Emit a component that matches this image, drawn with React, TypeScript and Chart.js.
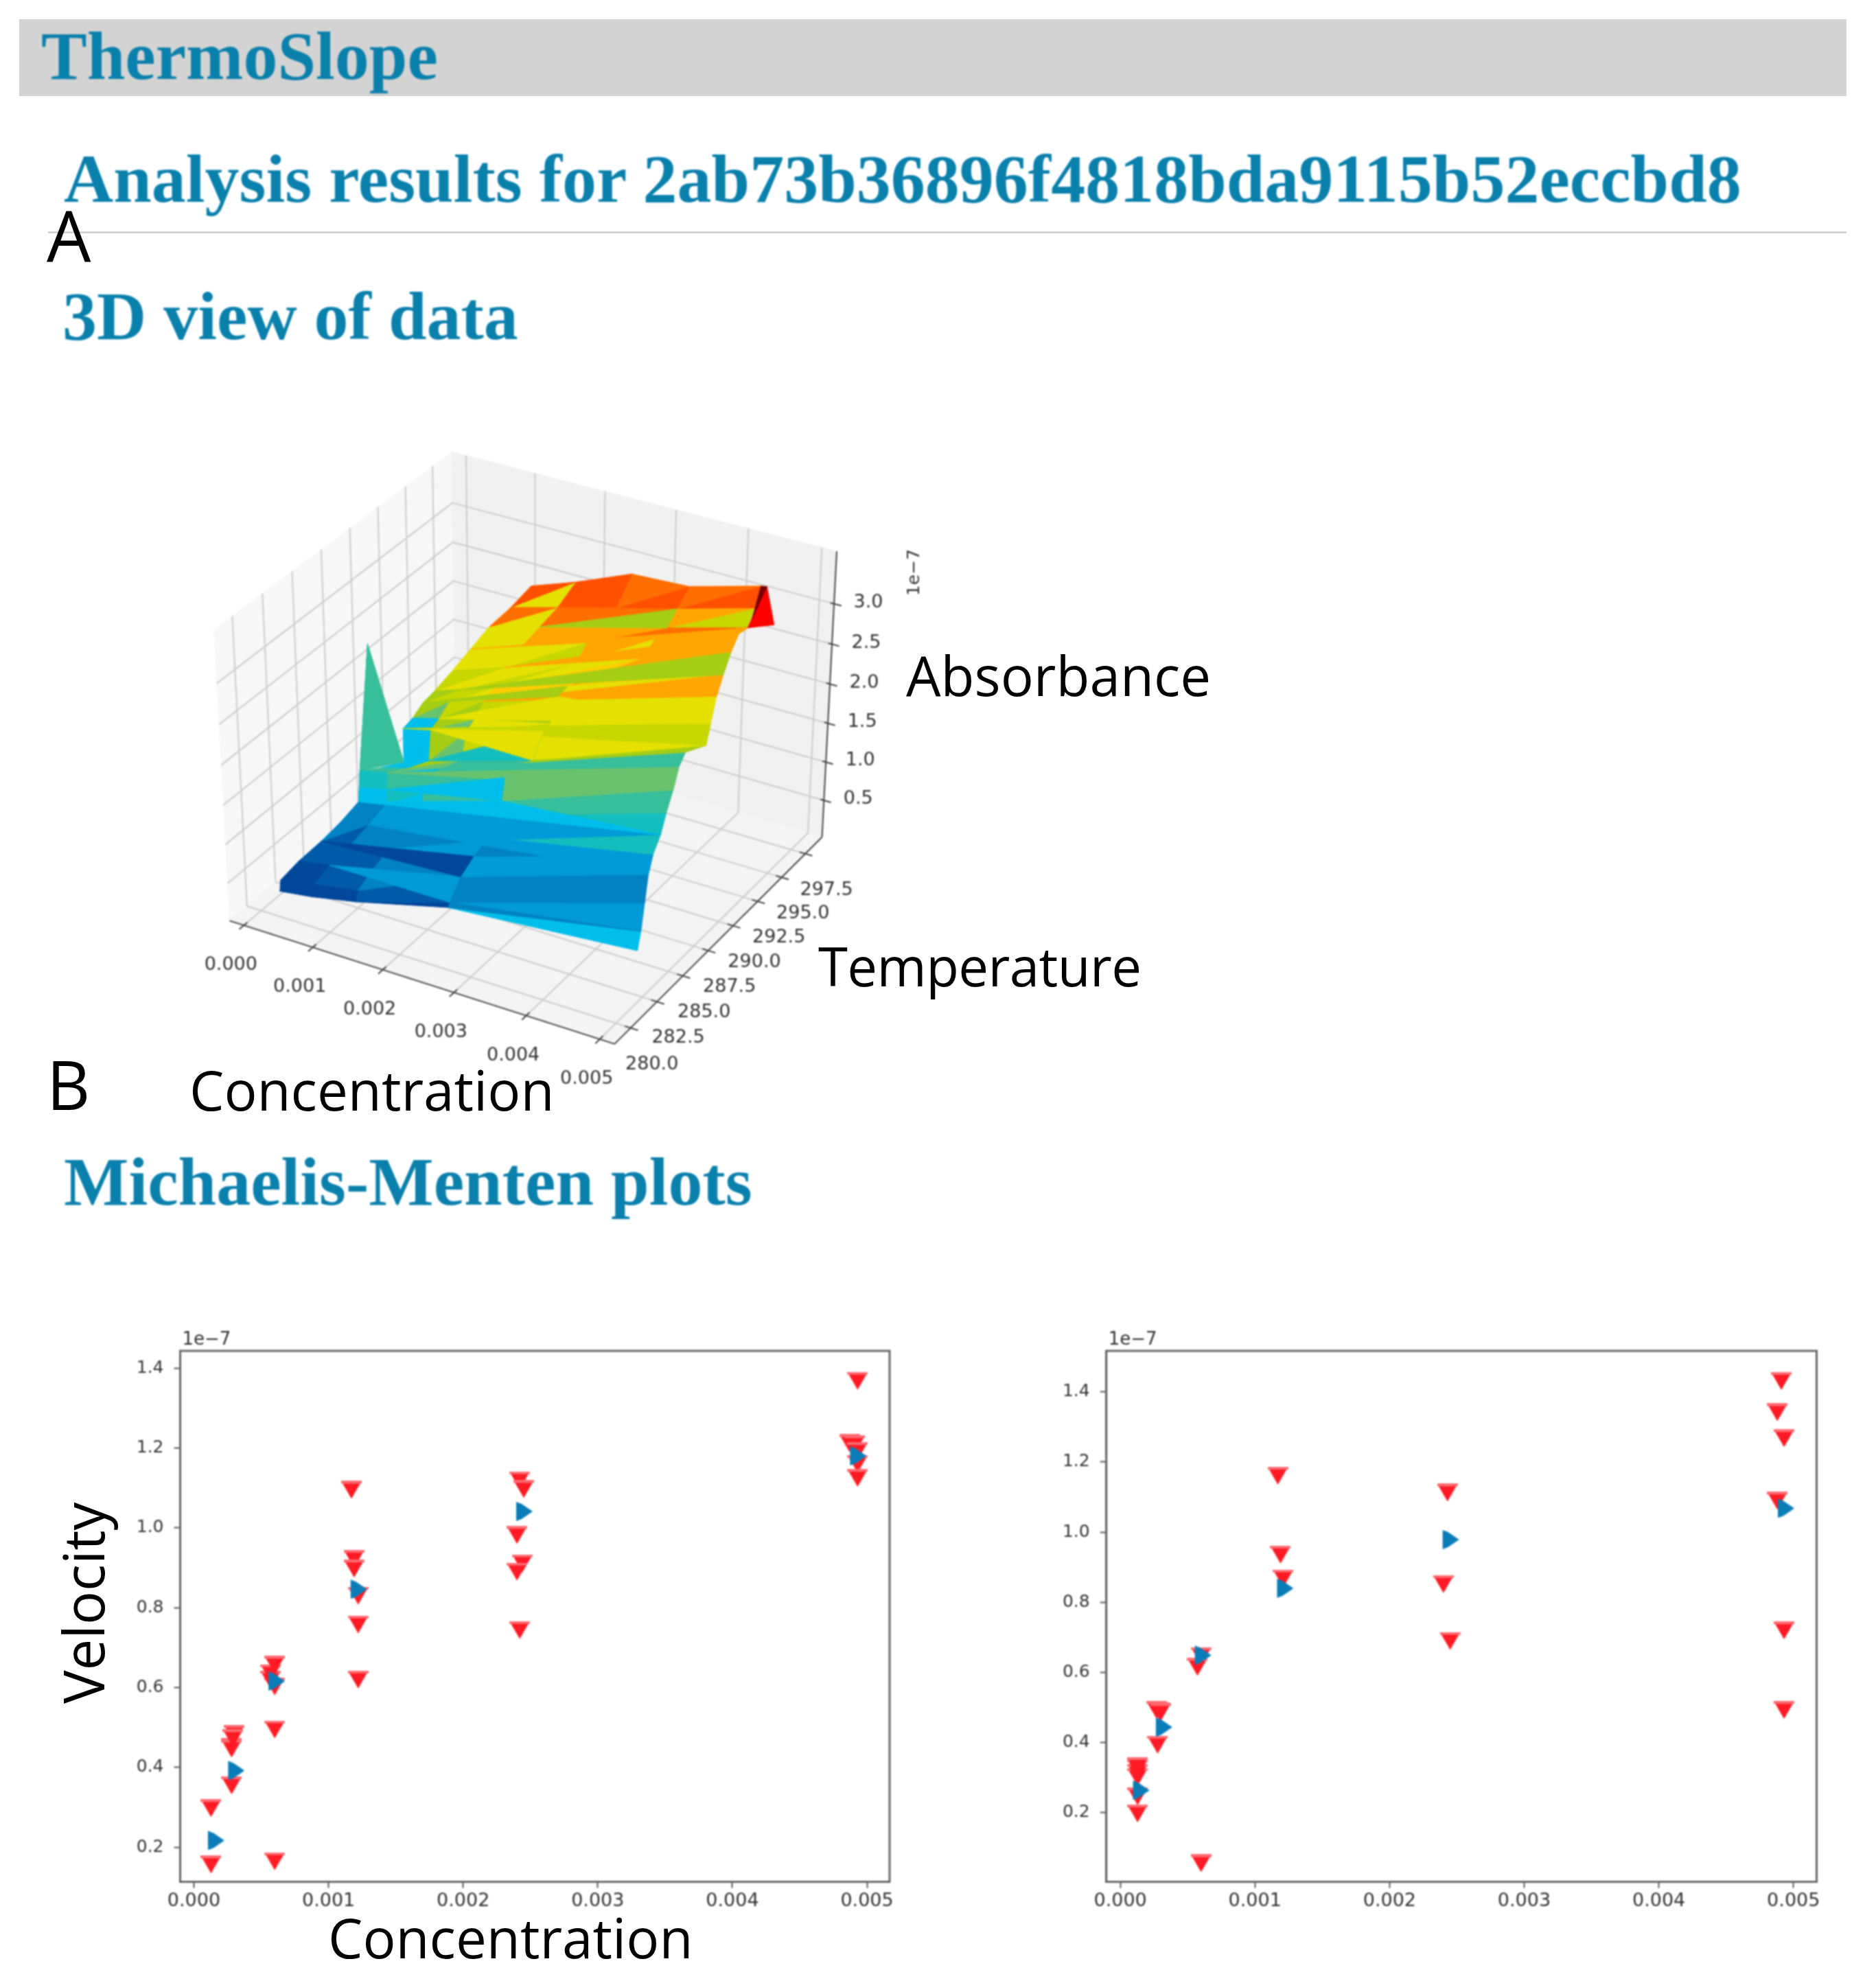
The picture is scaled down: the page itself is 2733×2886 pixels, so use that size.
import React, { useEffect, useRef } from "react";
import { Chart, registerables } from "chart.js";

Chart.register(...registerables);

// ---------- Michaelis-Menten data (velocity in units of 1e-7) ----------
const concTicks = [0, 0.001, 0.002, 0.003, 0.004, 0.005];
const leftVelTicks = [0.2, 0.4, 0.6, 0.8, 1.0, 1.2, 1.4];
const rightVelTicks = [0.2, 0.4, 0.6, 0.8, 1.0, 1.2, 1.4];

const leftRedConc = [0.000127, 0.000127, 0.00028, 0.00028, 0.00028, 0.00030, 0.00029, 0.0006, 0.0006, 0.0006, 0.00057, 0.00057, 0.0006, 0.00117, 0.00119, 0.00119, 0.00122, 0.00122, 0.00122, 0.00242, 0.00245, 0.0024, 0.00244, 0.0024, 0.00242, 0.00493, 0.00487, 0.00491, 0.00493, 0.00493, 0.00493];
const leftRedVel = [0.157, 0.298, 0.355, 0.452, 0.447, 0.484, 0.473, 0.165, 0.495, 0.603, 0.62, 0.636, 0.657, 1.095, 0.922, 0.898, 0.83, 0.758, 0.62, 1.119, 1.097, 0.982, 0.911, 0.89, 0.744, 1.368, 1.212, 1.209, 1.192, 1.16, 1.125];
const leftBlueConc = [0.00016, 0.00031, 0.00061, 0.00122, 0.00245, 0.00493];
const leftBlueVel = [0.217, 0.392, 0.616, 0.846, 1.041, 1.18];

const rightRedConc = [0.000128, 0.000128, 0.000128, 0.000128, 0.000128, 0.000128, 0.000277, 0.00029, 0.00027, 0.0003, 0.0006, 0.000573, 0.0006, 0.00117, 0.00119, 0.00121, 0.00243, 0.0024, 0.00245, 0.00491, 0.00488, 0.00493, 0.00488, 0.00493, 0.00493];
const rightRedVel = [0.198, 0.247, 0.302, 0.314, 0.327, 0.333, 0.394, 0.49, 0.493, 0.487, 0.056, 0.616, 0.647, 1.161, 0.936, 0.868, 1.113, 0.852, 0.69, 1.431, 1.342, 1.268, 1.09, 0.72, 0.493];
const rightBlueConc = [0.00015, 0.00032, 0.00061, 0.00122, 0.00245, 0.00494];
const rightBlueVel = [0.264, 0.444, 0.649, 0.84, 0.979, 1.068];

// ---------- 3D surface data (absorbance in units of 1e-7) ----------
const lowConc = [0.00015, 0.0006, 0.0012, 0.00245, 0.00495];
const surfaceConc = [
  lowConc, lowConc, lowConc, lowConc, lowConc, lowConc, lowConc,
  lowConc, lowConc, lowConc, lowConc, lowConc, lowConc, lowConc,
  [0.00044, 0.00134, 0.0025, 0.00359, 0.00495],
  [0.00071, 0.00156, 0.00262, 0.00368, 0.00495],
  [0.00098, 0.00178, 0.00277, 0.00376, 0.00495],
  [0.0013, 0.00202, 0.00293, 0.00385, 0.00495],
  [0.00159, 0.00226, 0.0031, 0.00394, 0.00495],
];
const surfaceTemp = [
  [280.8, 280.9, 281.1, 281.5, 282.3],
  [280.9, 281.1, 281.3, 281.7, 282.6],
  [282.5, 282.5, 282.6, 282.7, 282.9],
  [284.5, 284.4, 284.2, 283.9, 283.2],
  [286.3, 286.0, 285.7, 285.0, 283.6],
  [287.9, 287.6, 287.1, 286.2, 284.3],
  [288.0, 287.7, 287.3, 286.5, 284.8],
  [288.1, 287.8, 287.5, 286.8, 285.4],
  [290.0, 289.6, 289.1, 288.0, 285.9],
  [292.1, 291.6, 290.9, 289.4, 286.5],
  [292.1, 291.8, 291.3, 290.4, 288.5],
  [293.0, 292.6, 292.1, 291.0, 288.9],
  [294.0, 293.6, 293.0, 291.8, 289.4],
  [295.1, 294.6, 294.0, 292.7, 290.0],
  [295.0, 294.1, 293.1, 292.0, 290.7],
  [295.0, 294.3, 293.4, 292.5, 291.4],
  [295.0, 294.5, 293.8, 293.1, 292.3],
  [295.0, 294.6, 294.0, 293.4, 292.9],
  [295.0, 294.7, 294.3, 293.9, 293.5],
];
const surfaceAbs = [
  [0.209, 0.25, 0.33, 0.56, 0.621],
  [0.342, 0.388, 0.448, 0.6, 0.828],
  [0.389, 0.46, 0.555, 0.8, 1.149],
  [0.401, 0.5, 0.634, 0.91, 1.464],
  [0.439, 0.553, 0.705, 0.98, 1.655],
  [0.504, 0.628, 0.792, 1.15, 1.821],
  [0.681, 0.808, 0.976, 1.3, 2.03],
  [0.89, 1.016, 1.184, 1.56, 2.234],
  [0.7, 0.86, 1.08, 1.6, 2.452],
  [0.528, 0.72, 0.974, 1.47, 2.564],
  [0.969, 1.105, 1.285, 1.72, 2.414],
  [1.002, 1.155, 1.359, 1.75, 2.632],
  [1.09, 1.261, 1.488, 2.0, 2.906],
  [1.118, 1.304, 1.551, 2.03, 3.098],
  [1.468, 1.833, 2.288, 2.744, 3.291],
  [1.813, 2.136, 2.54, 2.945, 3.43],
  [2.158, 2.408, 2.72, 3.03, 3.408],
  [2.485, 2.7, 2.975, 3.25, 3.574],
  [2.822, 3.06, 3.4, 3.49, 3.777],
];
const surfacePalette: Record<string, string> = {
  a: "#00479b", b: "#005aaa", c: "#0082c3", d: "#009bd7", e: "#00beeb",
  f: "#14bebe", g: "#37be9b", h: "#69c36e", i: "#a5cd14", j: "#c8d700",
  k: "#e4e100", l: "#ffcd00", m: "#ffa500", n: "#ff6e00", o: "#ff5000",
  p: "#ff0000", q: "#780000",
};
const surfaceShade = [
  "aaaaabec",
  "aabbbcdc",
  "bbbbcccd",
  "bcccdcdc",
  "ccddddfd",
  "eeefegfg",
  "ffggfggh",
  "ggehgggg",
  "eehigggi",
  "eehihjik",
  "eehijkjk",
  "hiijijkk",
  "jikjmlmk",
  "kjjklklm",
  "kkjkkmlm",
  "kkmmnmmn",
  "knnninjm",
  "koooonon",
];
// Long thin facets of the triangulation, as [row, column] vertex references and a shade.
const streakFacets: [number[], number[], number[], string][] = [
  [[5, 0], [5, 4], [6, 3], "e"],
  [[4, 1], [3, 4], [4, 4], "d"],
  [[2, 1], [2, 3], [1, 3], "d"],
  [[3, 0], [2, 3], [3, 3], "a"],
  [[7, 1], [8, 4], [7, 4], "h"],
  [[6, 1], [7, 3], [6, 3], "e"],
  [[9, 1], [10, 3], [9, 3], "f"],
  [[10, 0], [11, 4], [10, 4], "j"],
  [[12, 2], [13, 4], [12, 4], "m"],
  [[11, 1], [11, 4], [12, 3], "k"],
  [[13, 1], [14, 4], [13, 4], "i"],
  [[14, 1], [15, 4], [14, 4], "m"],
  [[15, 0], [16, 4], [15, 4], "m"],
  [[16, 1], [17, 3], [16, 3], "i"],
  [[10, 1], [9, 3], [10, 3], "k"],
  [[12, 0], [13, 3], [12, 3], "i"],
];
const tipConc = 0.00495;
const tipTemp = [294.1, 295.0, 292.3, 293.5, 292.7];
const tipAbs = [3.706, 3.15, 3.408, 3.777, 3.467];
const spikeConc = 0.00015;
const spikeTemp = [289.1, 288.1, 292.1, 287.9];
const spikeAbs = [2.395, 0.89, 0.528, 0.504];

const conc3dTicks = [0, 0.001, 0.002, 0.003, 0.004, 0.005];
const temp3dTicks = [280, 282.5, 285, 287.5, 290, 292.5, 295, 297.5];
const abs3dTicks = [0.5, 1.0, 1.5, 2.0, 2.5, 3.0];
const concLim = [-0.00021, 0.0052];
const tempLim = [278.5, 299.3];
const absLim = [0.014, 3.64];

function project(c: number, t: number, a: number) {
  const dx = (c - (concLim[0] + concLim[1]) / 2) / (concLim[1] - concLim[0]);
  const dy = (t - (tempLim[0] + tempLim[1]) / 2) / (tempLim[1] - tempLim[0]);
  const dz = (a - (absLim[0] + absLim[1]) / 2) / (absLim[1] - absLim[0]);
  const depth = 0.433 * dx - 0.75 * dy + 0.5 * dz;
  const f = 1 / (1 - depth / 10);
  return {
    x: f * (0.866 * dx + 0.5 * dy),
    y: f * (-0.25 * dx + 0.433 * dy) + f * 0.866 * dz * (760 / 1015),
  };
}

function lineDs(points: any[], color: string, width: number) {
  return { data: points, showLine: true, borderColor: color, borderWidth: width, pointRadius: 0, fill: false, tension: 0 };
}
function facetDs(points: any[], color: string) {
  const closed = [...points, points[0]];
  return { data: closed, showLine: true, borderColor: color, borderWidth: 1, pointRadius: 0, fill: false, tension: 0, facetFill: color };
}

function build3dDatasets() {
  const back: any[] = []; // drawn first
  const [c0, c1] = concLim, [t0, t1] = tempLim, [a0, a1] = absLim;
  back.push(facetDs([project(c0, t0, a0), project(c0, t1, a0), project(c0, t1, a1), project(c0, t0, a1)], "#f7f7f7"));
  back.push(facetDs([project(c0, t1, a0), project(c1, t1, a0), project(c1, t1, a1), project(c0, t1, a1)], "#f1f1f1"));
  back.push(facetDs([project(c0, t0, a0), project(c1, t0, a0), project(c1, t1, a0), project(c0, t1, a0)], "#f4f4f4"));
  const grid = "#cccccc";
  for (const c of conc3dTicks) {
    back.push(lineDs([project(c, t0, a0), project(c, t1, a0), project(c, t1, a1)], grid, 2));
  }
  for (const t of temp3dTicks) {
    back.push(lineDs([project(c1, t, a0), project(c0, t, a0), project(c0, t, a1)], grid, 2));
  }
  for (const a of abs3dTicks) {
    back.push(lineDs([project(c0, t0, a), project(c0, t1, a), project(c1, t1, a)], grid, 2));
  }
  const axis = "#444444";
  back.push(lineDs([project(c0, t0, a0), project(c1, t0, a0)], axis, 2));
  back.push(lineDs([project(c1, t0, a0), project(c1, t1, a0)], axis, 2));
  back.push(lineDs([project(c1, t1, a0), project(c1, t1, a1)], axis, 2));
  for (const c of conc3dTicks) back.push(lineDs([project(c, t0 + 0.3, a0), project(c, t0 - 0.4, a0)], axis, 2));
  for (const t of temp3dTicks) back.push(lineDs([project(c1 - 0.00008, t, a0), project(c1 + 0.0001, t, a0)], axis, 2));
  for (const a of abs3dTicks) back.push(lineDs([project(c1 - 0.00005, t1, a), project(c1 + 0.0001, t1, a)], axis, 2));

  const v = (r: number, c: number) => project(surfaceConc[r][c], surfaceTemp[r][c], surfaceAbs[r][c]);
  for (let r = surfaceShade.length - 1; r >= 0; r--) {
    const s = surfaceShade[r];
    for (let c = 3; c >= 0; c--) {
      back.push(facetDs([v(r, c), v(r, c + 1), v(r + 1, c + 1)], surfacePalette[s[c * 2]]));
      back.push(facetDs([v(r, c), v(r + 1, c + 1), v(r + 1, c)], surfacePalette[s[c * 2 + 1]]));
    }
  }
  for (const [p, q, w, shade] of streakFacets) {
    back.push(facetDs([v(p[0], p[1]), v(q[0], q[1]), v(w[0], w[1])], surfacePalette[shade]));
  }
  const spike = (i: number) => project(spikeConc, spikeTemp[i], spikeAbs[i]);
  back.push(facetDs([spike(0), spike(3), spike(1)], surfacePalette.f));
  back.push(facetDs([spike(0), spike(1), spike(2)], surfacePalette.g));
  const tip = (i: number) => project(tipConc, tipTemp[i], tipAbs[i]);
  back.push(facetDs([tip(0), tip(1), tip(2)], surfacePalette.p));
  back.push(facetDs([tip(3), tip(0), tip(4)], surfacePalette.q));
  return back.reverse(); // Chart.js paints the last dataset first
}

const facetPlugin = {
  id: "facetPlugin",
  beforeDatasetDraw(chart: any, args: any) {
    const ds = chart.data.datasets[args.index];
    if (!ds.facetFill) return;
    const pts = chart.getDatasetMeta(args.index).data;
    const ctx = chart.ctx;
    ctx.save();
    ctx.beginPath();
    pts.forEach((p: any, i: number) => (i ? ctx.lineTo(p.x, p.y) : ctx.moveTo(p.x, p.y)));
    ctx.closePath();
    ctx.fillStyle = ds.facetFill;
    ctx.fill();
    ctx.restore();
  },
};

const axisTextPlugin = {
  id: "axisText",
  afterDraw(chart: any) {
    const ctx = chart.ctx;
    const sx = chart.scales.x, sy = chart.scales.y;
    const put = (p: any, label: string, ox: number, oy: number) => {
      ctx.fillText(label, sx.getPixelForValue(p.x) + ox, sy.getPixelForValue(p.y) + oy);
    };
    ctx.save();
    ctx.font = "27px 'DejaVu Sans'";
    ctx.fillStyle = "#333333";
    ctx.textAlign = "center";
    ctx.textBaseline = "middle";
    for (const c of conc3dTicks) put(project(c, tempLim[0], absLim[0]), c.toFixed(3), -19, 58);
    for (const t of temp3dTicks) put(project(concLim[1], t, absLim[0]), t.toFixed(1), 31, 53);
    for (const a of abs3dTicks) put(project(concLim[1], tempLim[1], a), a.toFixed(1), 50, -2);
    ctx.translate(1082, 214);
    ctx.rotate(-Math.PI / 2);
    ctx.font = "25px 'DejaVu Sans'";
    ctx.fillText("1e\u22127", 0, 0);
    ctx.restore();
  },
};

const framePlugin = {
  id: "frame",
  afterDraw(chart: any) {
    const { ctx, chartArea: a } = chart;
    ctx.save();
    ctx.strokeStyle = "#666666";
    ctx.lineWidth = 3;
    ctx.strokeRect(a.left, a.top, a.right - a.left, a.bottom - a.top);
    ctx.font = "26px 'DejaVu Sans'";
    ctx.fillStyle = "#333333";
    ctx.textAlign = "left";
    ctx.textBaseline = "alphabetic";
    ctx.fillText("1e\u22127", a.left + 3, a.top - 9);
    ctx.restore();
  },
};

function makeDownMarker() {
  const cv = document.createElement("canvas");
  cv.width = 30; cv.height = 26;
  const g = cv.getContext("2d")!;
  g.fillStyle = "#ff1a24";
  g.beginPath(); g.moveTo(0, 0); g.lineTo(30, 0); g.lineTo(15, 26); g.closePath(); g.fill();
  g.fillStyle = "#ff6a72";
  g.fillRect(0, 0, 30, 4);
  return cv;
}
function makeRightMarker() {
  const cv = document.createElement("canvas");
  cv.width = 26; cv.height = 28;
  const g = cv.getContext("2d")!;
  g.fillStyle = "#0a7db8";
  g.beginPath(); g.moveTo(2, 0); g.lineTo(10, 3); g.lineTo(26, 14); g.lineTo(10, 25); g.lineTo(2, 28); g.closePath(); g.fill();
  return cv;
}

function toPoints(xs: number[], ys: number[]) {
  return xs.map((x, i) => ({ x, y: ys[i] }));
}

function makeScatter(canvas: HTMLCanvasElement, cfg: any) {
  return new Chart(canvas, {
    type: "scatter",
    data: {
      datasets: [
        { data: toPoints(cfg.blueX, cfg.blueY), pointStyle: makeRightMarker(), pointRadius: 5 },
        { data: toPoints(cfg.redX, cfg.redY), pointStyle: makeDownMarker(), pointRadius: 5 },
      ],
    } as any,
    options: {
      animation: false,
      responsive: false,
      devicePixelRatio: 1,
      events: [],
      layout: { padding: { top: cfg.padTop, right: cfg.padRight, left: 0, bottom: 0 } },
      plugins: { legend: { display: false }, tooltip: { enabled: false } },
      scales: {
        x: {
          type: "linear", min: cfg.xMin, max: cfg.xMax,
          afterFit: (s: any) => { s.height = cfg.bottomH; },
          afterBuildTicks: (s: any) => { s.ticks = concTicks.map((value) => ({ value })); },
          grid: { drawOnChartArea: false, tickLength: 9, tickColor: "#555555", tickWidth: 2 },
          border: { color: "#666666", width: 3 },
          ticks: { font: { family: "'DejaVu Sans'", size: 27 }, color: "#333333", padding: 3, maxRotation: 0, autoSkip: false, callback: (v: any) => Number(v).toFixed(3) },
        },
        y: {
          type: "linear", min: cfg.yMin, max: cfg.yMax,
          afterFit: (s: any) => { s.width = cfg.leftW; },
          afterBuildTicks: (s: any) => { s.ticks = cfg.yTicks.map((value: number) => ({ value })); },
          grid: { drawOnChartArea: false, tickLength: 9, tickColor: "#555555", tickWidth: 2 },
          border: { color: "#666666", width: 3 },
          ticks: { font: { family: "'DejaVu Sans'", size: 25 }, color: "#333333", padding: 15, autoSkip: false, callback: (v: any) => Number(v).toFixed(1) },
        },
      },
    } as any,
    plugins: [framePlugin],
  });
}

const HEAD = "#0a80ac";
function Heading({ x, base, children }: any) {
  return (
    <div style={{ position: "absolute", left: x, top: base - 83.75, fontFamily: "'Liberation Serif'", fontWeight: 700, fontSize: 100, lineHeight: "100px", color: HEAD, whiteSpace: "nowrap", filter: "blur(0.8px)" }}>{children}</div>
  );
}
function Label({ x, base, size = 80, children, spacing = 0 }: any) {
  return (
    <div style={{ position: "absolute", left: x, top: base - size * 0.888, fontFamily: "'Open Sans'", fontSize: size, lineHeight: `${size}px`, letterSpacing: spacing, color: "#000", whiteSpace: "nowrap" }}>{children}</div>
  );
}

export default function App() {
  const ref3d = useRef<HTMLCanvasElement>(null);
  const refL = useRef<HTMLCanvasElement>(null);
  const refR = useRef<HTMLCanvasElement>(null);

  useEffect(() => {
    const c3 = new Chart(ref3d.current!, {
      type: "scatter",
      data: { datasets: build3dDatasets() } as any,
      options: {
        animation: false,
        responsive: false,
        devicePixelRatio: 1,
        events: [],
        layout: { padding: 0 },
        plugins: { legend: { display: false }, tooltip: { enabled: false } },
        scales: {
          x: { type: "linear", display: false, min: -0.8072, max: 0.8916 },
          y: { type: "linear", display: false, min: -0.8424, max: 0.7025 },
        },
      } as any,
      plugins: [facetPlugin, axisTextPlugin],
    });
    const cL = makeScatter(refL.current!, {
      redX: leftRedConc, redY: leftRedVel, blueX: leftBlueConc, blueY: leftBlueVel,
      xMin: -0.000102, xMax: 0.005168, yMin: 0.1135, yMax: 1.443, yTicks: leftVelTicks,
      padTop: 38, padRight: 34, leftW: 132.5, bottomH: 68.5,
    });
    const cR = makeScatter(refR.current!, {
      redX: rightRedConc, redY: rightRedVel, blueX: rightBlueConc, blueY: rightBlueVel,
      xMin: -0.000104, xMax: 0.005172, yMin: 0.0031, yMax: 1.517, yTicks: rightVelTicks,
      padTop: 38, padRight: 43.5, leftW: 131.7, bottomH: 68.5,
    });
    return () => { c3.destroy(); cL.destroy(); cR.destroy(); };
  }, []);

  return (
    <div style={{ position: "absolute", left: 0, top: 0, width: 2733, height: 2886, background: "#fff", overflow: "hidden" }}>
      <div style={{ position: "absolute", left: 28, top: 28, width: 2662, height: 112, background: "#d3d3d3" }} />
      <div style={{ position: "absolute", left: 70, top: 337, width: 2620, height: 3, background: "#d3d3d3" }} />
      <Heading x={60} base={116}>ThermoSlope</Heading>
      <Heading x={93} base={295}>Analysis results for 2ab73b36896f4818bda9115b52eccbd8</Heading>
      <Heading x={91} base={495}>3D view of data</Heading>
      <Heading x={93} base={1756}>Michaelis-Menten plots</Heading>
      <canvas ref={ref3d} width={1100} height={1000} style={{ position: "absolute", left: 250, top: 620, filter: "blur(1.1px)" }} />
      <canvas ref={refL} width={1200} height={880} style={{ position: "absolute", left: 130, top: 1930, filter: "blur(1.1px)" }} />
      <canvas ref={refR} width={1210} height={880} style={{ position: "absolute", left: 1480, top: 1930, filter: "blur(1.1px)" }} />
      <Label x={68} base={382} size={102}>A</Label>
      <Label x={68} base={1617} size={98}>B</Label>
      <Label x={1320} base={1014}>Absorbance</Label>
      <Label x={1192} base={1437} size={78} spacing={-0.6}>Temperature</Label>
      <Label x={276} base={1618}>Concentration</Label>
      <Label x={478} base={2853}>Concentration</Label>
      <div style={{ position: "absolute", left: 152, top: 2482, width: 0, height: 0 }}>
        <div style={{ position: "absolute", left: 0, top: 0, transformOrigin: "0 0", transform: "rotate(-90deg) translateY(-72px)", fontFamily: "'Open Sans'", fontSize: 81.5, lineHeight: "81px", color: "#000", whiteSpace: "nowrap" }}>Velocity</div>
      </div>
    </div>
  );
}
